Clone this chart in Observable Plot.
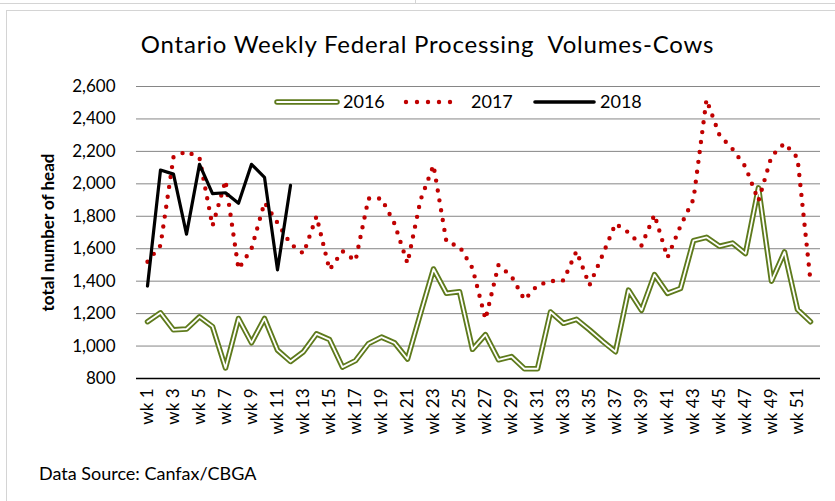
<!DOCTYPE html>
<html>
<head>
<meta charset="utf-8">
<script src="https://cdn.jsdelivr.net/npm/d3@7"></script>
<script src="https://cdn.jsdelivr.net/npm/@observablehq/plot@0.6"></script>
<style>
  html, body { margin: 0; padding: 0; background: #fff; }
  #wrap { position: relative; width: 835px; height: 501px; overflow: hidden; font-family: Lato, "Open Sans", sans-serif; }
  #frame { position: absolute; left: 6px; top: 10px; width: 900px; height: 600px; border: 1px solid #d4d4d4; box-sizing: border-box; }
  #topline { position: absolute; left: 0; top: 3px; width: 835px; height: 0; border-top: 1px solid #d4d4d4; }
  #topv { position: absolute; left: 415px; top: 0; width: 0; height: 4px; border-left: 1px solid #d4d4d4; }
  #title { position: absolute; left: 0; width: 855px; top: 29px; text-align: center; font-size: 24px; letter-spacing: 0.8px; color: #000; }
  #caption { position: absolute; left: 39px; top: 462px; font-size: 18px; color: #000; }
  #chart { position: absolute; left: 0; top: 0; }
  #legend { position: absolute; left: 0; top: 0; pointer-events: none; }
  #chart svg g[aria-label="y-axis label"] text { font-weight: bold; }
</style>
</head>
<body>
<div id="wrap">
  <div id="topline"></div>
  <div id="topv"></div>
  <div id="frame"></div>
  <div id="chart"></div>
  <div id="title">Ontario Weekly Federal Processing&nbsp; Volumes-Cows</div>
  <div id="caption">Data Source: Canfax/CBGA</div>
  <svg id="legend" width="835" height="501"></svg>
</div>
<script>
// ---- data ----
const weeks = ["wk 1","wk 2","wk 3","wk 4","wk 5","wk 6","wk 7","wk 8","wk 9","wk 10",
  "wk 11","wk 12","wk 13","wk 14","wk 15","wk 16","wk 17","wk 18","wk 19","wk 20",
  "wk 21","wk 22","wk 23","wk 24","wk 25","wk 26","wk 27","wk 28","wk 29","wk 30",
  "wk 31","wk 32","wk 33","wk 34","wk 35","wk 36","wk 37","wk 38","wk 39","wk 40",
  "wk 41","wk 42","wk 43","wk 44","wk 45","wk 46","wk 47","wk 48","wk 49","wk 50",
  "wk 51","wk 52"];
const xTickLabels = ["wk 1","wk 3","wk 5","wk 7","wk 9","wk 11","wk 13","wk 15","wk 17","wk 19",
  "wk 21","wk 23","wk 25","wk 27","wk 29","wk 31","wk 33","wk 35","wk 37","wk 39",
  "wk 41","wk 43","wk 45","wk 47","wk 49","wk 51"];
const yTicks = [800, 1000, 1200, 1400, 1600, 1800, 2000, 2200, 2400, 2600];

const v2016 = [1150,1205,1100,1105,1180,1120,865,1170,1020,1170,
  975,905,965,1075,1040,870,910,1015,1055,1020,
  920,1200,1475,1325,1335,980,1070,915,935,860,
  860,1210,1140,1165,1100,1030,965,1345,1220,1440,
  1325,1355,1650,1670,1615,1635,1570,1975,1400,1580,
  1225,1150];
const v2017 = [1520,1620,2165,2200,2160,1740,2020,1475,1600,1885,
  1760,1630,1570,1800,1470,1585,1525,1910,1910,1755,
  1510,1900,2115,1640,1615,1480,1165,1500,1430,1285,
  1375,1400,1405,1585,1375,1560,1755,1700,1620,1810,
  1545,1740,1905,2520,2300,2215,2105,1895,2170,2250,
  2160,1400];
const v2018 = [1370,2085,2060,1690,2120,1940,1945,1880,2120,2040,
  1470,1990];

const seriesNames = ["2016", "2017", "2018"];
const colors = {"2016": "#5e7a1c", "2017": "#c00000", "2018": "#000000"};

const toRows = (vals) => vals.map((v, i) => ({week: weeks[i], value: v}));
const d2016 = toRows(v2016), d2017 = toRows(v2017), d2018 = toRows(v2018);

const chart = Plot.plot({
  width: 835,
  height: 501,
  marginTop: 86,
  marginBottom: 123,
  marginLeft: 136,
  marginRight: 15,
  style: {fontFamily: "Lato, 'Open Sans', sans-serif", fontSize: "17px", color: "#000", background: "transparent"},
  x: {type: "point", domain: weeks, padding: 0.5},
  y: {domain: [800, 2600]},
  marks: [
    Plot.gridY(yTicks, {stroke: "#868686", strokeOpacity: 1, strokeWidth: 1}),
    Plot.axisY(yTicks, {tickFormat: d3.format(","), tickSize: 0, tickPadding: 21, fontSize: 17,
      label: "total number of head", labelAnchor: "center", labelOffset: 95, labelArrow: "none"}),
    Plot.axisX(xTickLabels, {tickRotate: -90, tickSize: 0, tickPadding: 10, fontSize: 17, label: null}),
    Plot.ruleY([800], {stroke: "#000", strokeWidth: 1.3}),
    Plot.line(d2016, {x: "week", y: "value", stroke: colors["2016"], strokeWidth: 5.5}),
    Plot.line(d2016, {x: "week", y: "value", stroke: "#ffffff", strokeWidth: 1.8}),
    Plot.line(d2017, {x: "week", y: "value", stroke: colors["2017"], strokeWidth: 4.4,
      strokeDasharray: "0 10", strokeLinecap: "round"}),
    Plot.line(d2018, {x: "week", y: "value", stroke: colors["2018"], strokeWidth: 3.2})
  ]
});
document.getElementById("chart").appendChild(chart);

// ---- legend ----
const leg = d3.select("#legend");
const ly = 102;
const items = [
  {name: "2016", x0: 277, x1: 337, tx: 343},
  {name: "2017", x0: 406, x1: 461, tx: 471},
  {name: "2018", x0: 535, x1: 594, tx: 600}
];
items.forEach(it => {
  if (it.name === "2016") {
    leg.append("line").attr("x1", it.x0).attr("x2", it.x1).attr("y1", ly).attr("y2", ly)
      .attr("stroke", colors["2016"]).attr("stroke-width", 5.5).attr("stroke-linecap", "round");
    leg.append("line").attr("x1", it.x0).attr("x2", it.x1).attr("y1", ly).attr("y2", ly)
      .attr("stroke", "#fff").attr("stroke-width", 1.8).attr("stroke-linecap", "round");
  } else if (it.name === "2017") {
    leg.append("line").attr("x1", it.x0).attr("x2", it.x1).attr("y1", ly).attr("y2", ly)
      .attr("stroke", colors["2017"]).attr("stroke-width", 4.4).attr("stroke-dasharray", "0 11")
      .attr("stroke-linecap", "round");
  } else {
    leg.append("line").attr("x1", it.x0).attr("x2", it.x1).attr("y1", ly).attr("y2", ly)
      .attr("stroke", colors["2018"]).attr("stroke-width", 3.6).attr("stroke-linecap", "round");
  }
  leg.append("text").attr("x", it.tx).attr("y", ly).attr("dy", "0.35em")
    .attr("font-family", "Lato, 'Open Sans', sans-serif").attr("font-size", 18).attr("fill", "#000")
    .text(it.name);
});
</script>
</body>
</html>
